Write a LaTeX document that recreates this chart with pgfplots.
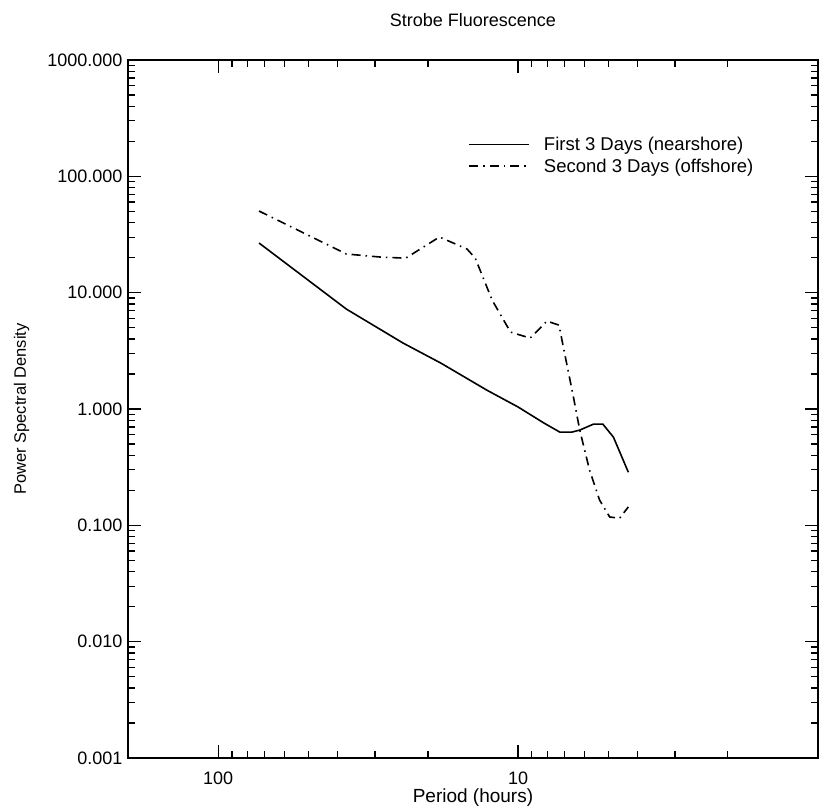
\documentclass[border=0pt]{standalone}
\usepackage{fontspec}
\setmainfont{Liberation Sans}
\usepackage{pgfplots}
\pgfplotsset{compat=1.18}

\newcommand{\lblfont}{\fontsize{18}{21}\selectfont}

\begin{document}
\begin{tikzpicture}
\path[use as bounding box] (-128pt,-50pt) rectangle (691pt,758pt);
\begin{axis}[
    at={(0pt,0pt)}, anchor=south west,
    scale only axis, width=690pt, height=698pt,
    xmode=log, ymode=log, x dir=reverse,
    xmin=1, xmax=200, ymin=0.001, ymax=1000,
    xtick={10,100}, xticklabels={10,100},
    minor xtick={2,3,4,5,6,7,8,9,20,30,40,50,60,70,80,90},
    ytick={0.001,0.01,0.1,1,10,100,1000},
    yticklabels={0.001,0.010,0.100,1.000,10.000,100.000,1000.000},
    minor ytick={0.002,0.003,0.004,0.005,0.006,0.007,0.008,0.009,
                 0.02,0.03,0.04,0.05,0.06,0.07,0.08,0.09,
                 0.2,0.3,0.4,0.5,0.6,0.7,0.8,0.9,
                 2,3,4,5,6,7,8,9,
                 20,30,40,50,60,70,80,90,
                 200,300,400,500,600,700,800,900},
    tick align=inside,
    major tick length=13pt, minor tick length=7pt,
    axis line style={line width=1.8pt},
    tick style={line width=1.3pt, black},
    /pgf/number format/assume math mode=true,
    tick label style={font=\lblfont},
    yticklabel style={anchor=east, xshift=-2pt},
    xticklabel style={anchor=base, yshift=-26pt},
    title={Strobe Fluorescence},
    title style={font=\lblfont, at={(axis description cs:0.5,1.039)}, anchor=base},
    xlabel={Period (hours)},
    xlabel style={font=\fontsize{19}{22}\selectfont, at={(axis description cs:0.5,-0.064)}, anchor=base},
    ylabel={Power Spectral Density},
    ylabel style={font=\fontsize{16.5}{20}\selectfont, at={(axis description cs:-0.148,0.5)}, anchor=base, rotate=0},
    legend style={draw=none, fill=none, at={(0.493,0.893)}, anchor=north west,
        inner sep=0pt, row sep=3pt, font=\fontsize{18.5}{21}\selectfont, cells={anchor=west}},
    legend image code/.code={\draw[#1, line width=1.6pt] (0pt,0pt) -- (60pt,0pt); \path (72pt,0pt);},
]
% first 3 days (nearshore)
\addplot[black, line width=1.6pt] coordinates {
    (73.1,26.7) (37.4,7.23) (24.2,3.69) (18.1,2.48) (12.7,1.45)
    (10.0,1.04) (8.2,0.757) (7.26,0.633) (6.62,0.633) (6.23,0.659)
    (5.60,0.742) (5.22,0.742) (4.81,0.573) (4.29,0.286)
};
\addlegendentry{First 3 Days (nearshore)}
% second 3 days (offshore)
\addplot[black, line width=1.6pt, dash pattern=on 9pt off 5pt on 1.5pt off 5pt] coordinates {
    (73.1,50.3) (37.4,21.5) (28.6,20.2) (23.7,19.8) (18.3,30.1)
    (14.8,23.7) (13.9,19.8) (12.2,8.6) (10.6,4.58) (9.12,4.07)
    (8.01,5.70) (7.31,5.26) (6.53,1.24) (6.23,0.659) (5.78,0.299)
    (5.35,0.165) (4.95,0.118) (4.59,0.115) (4.29,0.144)
};
\addlegendentry{Second 3 Days (offshore)}
\end{axis}
\end{tikzpicture}
\end{document}
